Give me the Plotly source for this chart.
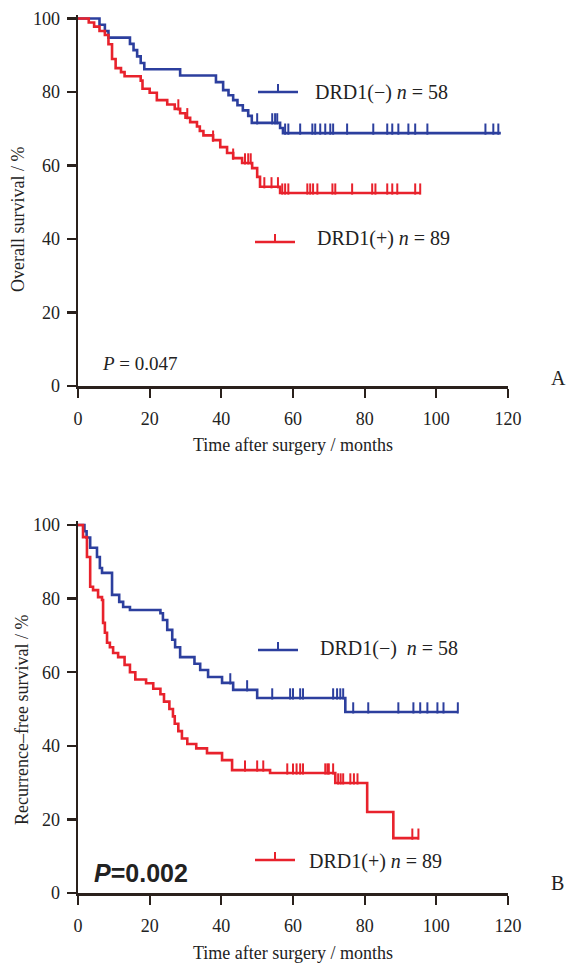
import numpy as np
import plotly.graph_objects as go

W, H = 566, 968
BLUE = "#2c3f9e"
RED = "#e8222c"
AXC = "#2a211c"
FONT = "Liberation Serif"

# ---- Panel A: overall survival ----
os_neg_t = [0, 6, 7.5, 8.5, 14.5, 15.5, 16.5, 17.5, 18.5, 28.5, 38.5, 40.5, 42, 43.3, 44.5, 46, 47.5, 48.5, 56.4, 57.2, 118]
os_neg_s = [100, 98.3, 96.6, 94.8, 93.1, 91.4, 89.7, 87.9, 86.2, 84.5, 82.7, 80.5, 79.1, 77.8, 76.4, 75.0, 73.5, 71.6, 70.2, 68.8, 68.8]
os_neg_cens = [50, 54.2, 55, 55.6, 57.8, 58.7, 62, 65.4, 66.2, 67.6, 69, 70.4, 71.2, 75.1, 82.4, 86.3, 87.7, 89.4, 92.2, 94.1, 97.5, 113.7, 115.9, 117.3]

os_pos_t = [0, 3, 4.5, 6, 7.5, 8.5, 9.5, 10.5, 12, 13, 17.5, 18, 20, 22, 24.9, 27, 28.5, 30, 31.3, 33.2, 34, 35, 37.7, 39.7, 41.6, 43.3, 45.8, 48.6, 50, 50.8, 56.4, 95.5]
os_pos_s = [100, 98.9, 97.8, 96.6, 95.5, 93.0, 89.0, 86.5, 85.4, 84.3, 83.1, 80.9, 79.8, 77.8, 76.6, 75.4, 74.2, 73.0, 71.8, 70.6, 69.4, 68.2, 66.9, 65.0, 63.4, 62.0, 60.7, 59.3, 56.9, 54.2, 52.5, 52.5]
os_pos_cens = [28, 30.5, 37.7, 43.3, 46.6, 47.5, 48.2, 52, 54, 55.8, 57, 57.8, 58.7, 64, 64.8, 65.6, 66.8, 71, 71.8, 76.5, 82.1, 83, 86.3, 87.7, 89.1, 94.1, 95.5]

# ---- Panel B: recurrence-free survival ----
rfs_neg_t = [0, 1.8, 2.4, 3.4, 5.3, 6.1, 6.7, 9.5, 11.5, 12.6, 14.5, 23.0, 23.7, 24.9, 26.3, 27.1, 28.5, 32.5, 34.1, 36.3, 40.2, 43.3, 50.0, 74.6, 106]
rfs_neg_s = [100, 98.3, 96.6, 93.8, 91.3, 88.3, 87.0, 81.0, 79.1, 77.7, 76.9, 76.0, 74.2, 71.5, 68.8, 66.8, 64.1, 62.3, 60.6, 58.7, 57.1, 55.2, 53.0, 49.2, 49.2]
rfs_neg_cens = [42.5, 47.2, 54.2, 59.2, 60, 62, 62.8, 71.2, 72.3, 73.2, 74, 76.8, 81, 89.4, 93.6, 95.5, 97.5, 100.3, 102, 106]

rfs_pos_t = [0, 1.4, 2.5, 3.4, 4.2, 5.6, 6.7, 7.0, 7.5, 8.1, 8.9, 9.8, 11.2, 13, 14.5, 16, 19, 21, 23, 24, 25.5, 26.5, 27, 28, 29, 30.5, 33, 36, 40.2, 43.0, 53.6, 71.8, 80.7, 88.0, 95]
rfs_pos_s = [100, 96.7, 91.3, 83.2, 82.3, 80.4, 79.6, 73.4, 70.7, 68.0, 66.8, 65.2, 64.1, 62.0, 60.0, 58.0, 57.0, 55.5, 54.0, 52.0, 50.0, 48.0, 46.0, 44.0, 42.0, 40.5, 39.3, 38.0, 36.1, 33.4, 32.6, 29.9, 22.0, 14.9, 14.9]
rfs_pos_cens = [46.6, 50, 51.7, 58.4, 60, 61, 62, 62.8, 69, 69.6, 70, 71.2, 72.6, 73.3, 74, 76, 77, 78, 93.3, 95]

x_ticks = [0, 20, 40, 60, 80, 100, 120]
y_ticks = [0, 20, 40, 60, 80, 100]


def step_at(ts, ss, q):
    idx = np.searchsorted(np.asarray(ts), np.asarray(q), side="right") - 1
    return np.asarray(ss)[idx]


def px(x):
    return x / W


def py(y):
    return 1 - y / H


fig = go.Figure()

panels = [
    ("x", "y", [(os_neg_t, os_neg_s, os_neg_cens, BLUE), (os_pos_t, os_pos_s, os_pos_cens, RED)]),
    ("x2", "y2", [(rfs_neg_t, rfs_neg_s, rfs_neg_cens, BLUE), (rfs_pos_t, rfs_pos_s, rfs_pos_cens, RED)]),
]
for xa, ya, curves in panels:
    for ts, ss, cens, col in curves:
        fig.add_trace(go.Scatter(x=ts, y=ss, mode="lines", line=dict(color=col, width=2.6, shape="hv"),
                                 xaxis=xa, yaxis=ya, showlegend=False, hoverinfo="skip"))
        cy = step_at(ts, ss, cens) + 1.1
        fig.add_trace(go.Scatter(x=cens, y=cy, mode="markers",
                                 marker=dict(symbol="line-ns", size=8, line=dict(color=col, width=2)),
                                 xaxis=xa, yaxis=ya, showlegend=False, hoverinfo="skip", cliponaxis=False))

x0, x1 = px(78), px(508)
axis_common = dict(showgrid=False, zeroline=False, showline=True, linecolor=AXC, linewidth=2.5,
                   ticks="outside", ticklen=9, tickwidth=2.2, tickcolor=AXC, automargin=False,
                   tickfont=dict(family=FONT, size=18, color="#222"))
fig.update_layout(
    width=W, height=H, margin=dict(l=0, r=0, t=0, b=0, pad=0),
    paper_bgcolor="white", plot_bgcolor="white",
    xaxis=dict(domain=[x0, x1], range=[0, 120], tickvals=x_ticks, anchor="y", ticklabelstandoff=6, **axis_common),
    yaxis=dict(domain=[py(386), py(386 - 101 * 3.675)], range=[0, 101], tickvals=y_ticks, anchor="x", ticklabelstandoff=3, **axis_common),
    xaxis2=dict(domain=[x0, x1], range=[0, 120], tickvals=x_ticks, anchor="y2", ticklabelstandoff=6, **axis_common),
    yaxis2=dict(domain=[py(893), py(893 - 101 * 3.68)], range=[0, 101], tickvals=y_ticks, anchor="x2", ticklabelstandoff=3, **axis_common),
)

ann = []


def text(x, y, s, size=18, family=FONT, xanchor="left", angle=0, color="#222"):
    ann.append(dict(x=px(x), y=py(y), xref="paper", yref="paper", text=s, showarrow=False,
                    xanchor=xanchor, yanchor="middle", textangle=angle,
                    font=dict(family=family, size=size, color=color)))


# axis titles
text(293, 445, "Time after surgery / months", xanchor="center")
text(293, 953, "Time after surgery / months", xanchor="center")
text(18, 220, "Overall survival / %", xanchor="center", angle=-90)
text(22, 720, "Recurrence–free survival / %", xanchor="center", angle=-90)
# panel letters
text(558, 378, "A", size=20, xanchor="center")
text(557, 883, "B", size=20, xanchor="center")
# p values
text(100, 363, "<i>P</i> = 0.047", size=19)
text(92, 873, "<b><i>P</i>=0.002</b>", size=25, family="Liberation Sans")
# legends
text(313, 92, "DRD1(−) <i>n</i> = 58", size=20)
text(315, 239, "DRD1(+) <i>n</i> = 89", size=20)
text(318, 648, "DRD1(−)  <i>n</i> = 58", size=20)
text(307, 861, "DRD1(+) <i>n</i> = 89", size=20)

shapes = []
for (lx0, lx1, ly, col) in [(258, 298, 92, BLUE), (255, 295, 242, RED), (258, 298, 650, BLUE), (255, 295, 860, RED)]:
    shapes.append(dict(type="line", xref="paper", yref="paper", x0=px(lx0), x1=px(lx1), y0=py(ly), y1=py(ly),
                       line=dict(color=col, width=2.6)))
    xm = (lx0 + lx1) / 2
    shapes.append(dict(type="line", xref="paper", yref="paper", x0=px(xm), x1=px(xm), y0=py(ly), y1=py(ly - 8),
                       line=dict(color=col, width=2)))

fig.update_layout(annotations=ann, shapes=shapes)
fig.write_html("out.html", config={"displayModeBar": False, "staticPlot": True},
               post_script="document.body.style.margin='0px';document.body.style.overflow='hidden';")
